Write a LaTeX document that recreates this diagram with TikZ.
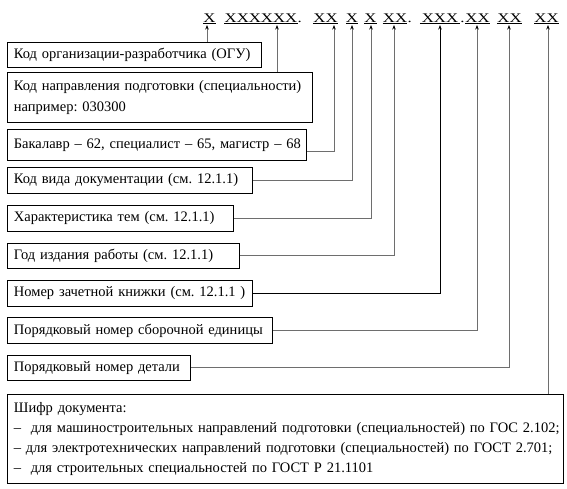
\documentclass[tikz,border=0pt]{standalone}
\usepackage{fontspec}
\setmainfont{Liberation Serif}
\newfontfamily\codefont[FakeStretch=1.27]{Liberation Serif}
\usetikzlibrary{arrows.meta}
\definecolor{wiregray}{RGB}{110,110,110}
\frenchspacing

\begin{document}
\begin{tikzpicture}[x=1pt, y=-1pt,
	box/.style={draw, line width=0.8pt, anchor=north west, inner xsep=6.5pt, inner ysep=0pt, align=left, font=\fontsize{14.5}{20}\selectfont},
	grp/.style={inner sep=0pt, anchor=base, font=\fontsize{13.2}{16}\codefont},
	conn/.style={draw=wiregray, line width=0.9pt, -{Stealth[length=4.5pt, width=3.5pt, color=black]}}]
				\useasboundingbox (0,0) rectangle (567,488);
				% Code groups:
				\node[grp, minimum width=13pt](G1) at (209.5, 22){Х};
				\node[grp, minimum width=72pt](G2) at (261, 22){ХХХХХХ};
				\node[grp, anchor=base west](D1) at (G2.base east){.};
				\node[grp, minimum width=25pt](G3) at (325.5, 22){ХХ};
				\node[grp, minimum width=12pt](G4) at (352, 22){Х};
				\node[grp, minimum width=13pt](G5) at (370.5, 22){Х};
				\node[grp, minimum width=24pt](G6) at (395, 22){ХХ};
				\node[grp, anchor=base west](D2) at (G6.base east){.};
				\node[grp, minimum width=40pt](G7) at (440, 22){ХХХ};
				\node[grp, anchor=base west](D3) at (G7.base east){.};
				\node[grp, minimum width=21pt](G8) at (477.5, 22){ХХ};
				\node[grp, minimum width=25pt](G9) at (509.5, 22){ХХ};
				\node[grp, minimum width=23pt](G10) at (546.5, 22){ХХ};
				\foreach \g in {1,...,10}
					\draw[line width=0.8pt] ([yshift=-1.8pt]G\g.base west) -- ([yshift=-1.8pt]G\g.base east);
				% Arrow ends:
				\coordinate (A1) at (207, 25);
				\coordinate (A2) at (277, 25);
				\coordinate (A3) at (334, 25);
				\coordinate (A4) at (352, 25);
				\coordinate (A5) at (371, 25);
				\coordinate (A6) at (394, 25);
				\coordinate (A7) at (440, 25);
				\coordinate (A8) at (477, 25);
				\coordinate (A9) at (509, 25);
				\coordinate (A10) at (548, 25);
				% Boxes:
				\node[box, text width=241pt, minimum height=25pt](B1) at (7, 42){Код организации-разработчика (ОГУ)};
				\node[box, text width=292pt, minimum height=50pt, font=\fontsize{14.5}{21}\selectfont](B2) at (7, 72){Код направления подготовки (специальности)\\например: 030300};
				\node[box, text width=286pt, minimum height=31pt](B3) at (7, 129){\mbox{Бакалавр – 62, специалист – 65, магистр – 68}};
				\node[box, text width=232pt, minimum height=26pt](B4) at (7, 167){Код вида документации (см. 12.1.1)};
				\node[box, text width=213pt, minimum height=26pt](B5) at (7, 205){Характеристика тем (см. 12.1.1)};
				\node[box, text width=219pt, minimum height=25pt](B6) at (7, 243){Год издания работы (см. 12.1.1)};
				\node[box, text width=232pt, minimum height=26pt](B7) at (7, 280){Номер зачетной книжки (см. 12.1.1 )};
				\node[box, text width=252pt, minimum height=26pt](B8) at (7, 317){Порядковый номер сборочной единицы};
				\node[box, text width=170pt, minimum height=25pt](B9) at (7, 355){Порядковый номер детали};
				\node[box, text width=543pt, minimum height=89pt](B10) at (7, 394){Шифр документа:\\
					\mbox{–\ \ для машиностроительных направлений подготовки (специальностей) по ГОС 2.102;}\\
					\mbox{– для электротехнических направлений подготовки (специальностей) по ГОСТ 2.701;}\\
					\mbox{–\ \ для строительных специальностей по ГОСТ Р 21.1101}};
				% Wires:
				\draw[conn] (A1 |- B1.north) -- (A1);
				\draw[conn] (A2 |- B2.north) -- (A2);
				\draw[conn] ([yshift=-6.5pt]B3.east) -| (A3);
				\draw[conn] (B4.east) -| (A4);
				\draw[conn] (B5.east) -| (A5);
				\draw[conn] (B6.east) -| (A6);
				\draw[conn, draw=black] (B7.east) -| (A7);
				\draw[conn] (B8.east) -| (A8);
				\draw[conn] (B9.east) -| (A9);
				\draw[conn] (A10 |- B10.north) -- (A10);
			\end{tikzpicture}
\end{document}
